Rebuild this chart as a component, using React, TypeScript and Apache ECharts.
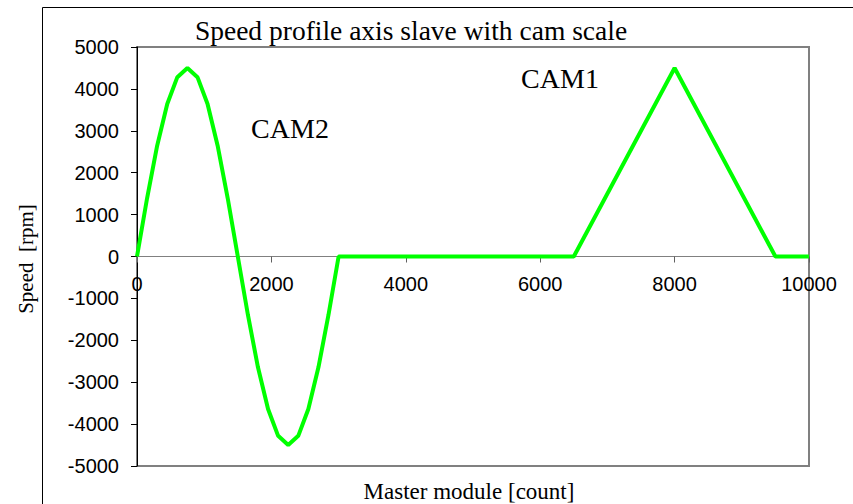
import React, { useEffect, useRef } from "react";
import * as echarts from "echarts";

const masterCounts = [
  0, 150, 300, 450, 600, 750, 900, 1050, 1200, 1350, 1500, 1650, 1800, 1950,
  2100, 2250, 2400, 2550, 2700, 2850, 3000, 6500, 8000, 9500, 10000,
];
const speedRpm = [
  0, 1390, 2645, 3640, 4280, 4500, 4280, 3640, 2645, 1390, 0, -1390, -2645,
  -3640, -4280, -4500, -4280, -3640, -2645, -1390, 0, 0, 4500, 0, 0,
];
const titleText = "Speed profile axis slave with cam scale";
const xAxisName = "Master module [count]";
const yAxisName = "Speed  [rpm]";
const camLabels = ["CAM1", "CAM2"];

const SANS = "'Liberation Sans', Arial, sans-serif";
const SERIF = "'Liberation Serif', 'Times New Roman', serif";

export default function App() {
  const ref = useRef<HTMLDivElement>(null);
  useEffect(() => {
    if (!ref.current) return;
    const chart = echarts.init(ref.current, null, { renderer: "svg" });
    const data = masterCounts.map((x, i) => [x, speedRpm[i]]);
    chart.setOption({
      animation: false,
      backgroundColor: "#ffffff",
      grid: {
        left: 137,
        top: 47,
        right: 44,
        bottom: 38,
        show: true,
        borderColor: "#808080",
        borderWidth: 2,
        backgroundColor: "transparent",
      },
      xAxis: {
        type: "value",
        min: 0,
        max: 10000,
        interval: 2000,
        position: "bottom",
        offset: -209.5,
        axisLine: { onZero: false, lineStyle: { color: "#808080", width: 1 } },
        axisTick: { show: true, inside: false, length: 6, lineStyle: { color: "#606060" } },
        axisLabel: {
          color: "#000",
          fontSize: 20,
          fontFamily: SANS,
          margin: 17,
          formatter: (v: number) => String(v),
        },
        splitLine: { show: false },
      },
      yAxis: {
        type: "value",
        min: -5000,
        max: 5000,
        interval: 1000,
        axisLine: { show: true, lineStyle: { color: "#000", width: 1 } },
        axisTick: { show: true, inside: false, length: 6, lineStyle: { color: "#000" } },
        axisLabel: {
          color: "#000",
          fontSize: 20,
          fontFamily: SANS,
          margin: 18,
          formatter: (v: number) => String(v),
        },
        splitLine: { show: false },
      },
      graphic: [
        {
          type: "rect",
          shape: { x: 42.5, y: 7.5, width: 900, height: 600 },
          style: { fill: "none", stroke: "#000", lineWidth: 1 },
          silent: true,
        },
        {
          type: "text",
          x: 411,
          y: 30,
          style: {
            text: titleText,
            font: `27.5px ${SERIF}`,
            fill: "#000",
            textAlign: "center",
            textVerticalAlign: "middle",
          },
        },
        {
          type: "text",
          x: 560,
          y: 78,
          style: {
            text: camLabels[0],
            font: `28px ${SERIF}`,
            fill: "#000",
            textAlign: "center",
            textVerticalAlign: "middle",
          },
        },
        {
          type: "text",
          x: 290,
          y: 128,
          style: {
            text: camLabels[1],
            font: `28px ${SERIF}`,
            fill: "#000",
            textAlign: "center",
            textVerticalAlign: "middle",
          },
        },
        {
          type: "text",
          x: 469,
          y: 491,
          style: {
            text: xAxisName,
            font: `23px ${SERIF}`,
            fill: "#000",
            textAlign: "center",
            textVerticalAlign: "middle",
          },
        },
        {
          type: "text",
          x: 26,
          y: 259,
          rotation: Math.PI / 2,
          style: {
            text: yAxisName,
            font: `21px ${SERIF}`,
            fill: "#000",
            textAlign: "center",
            textVerticalAlign: "middle",
          },
        },
      ],
      series: [
        {
          type: "line",
          data,
          showSymbol: false,
          symbol: "none",
          lineStyle: { color: "#00ff00", width: 4 },
          itemStyle: { color: "#00ff00" },
          z: 3,
        },
      ],
    });
    return () => chart.dispose();
  }, []);
  return (
    <div
      ref={ref}
      style={{ position: "fixed", left: 0, top: 0, width: 853, height: 504 }}
    />
  );
}
